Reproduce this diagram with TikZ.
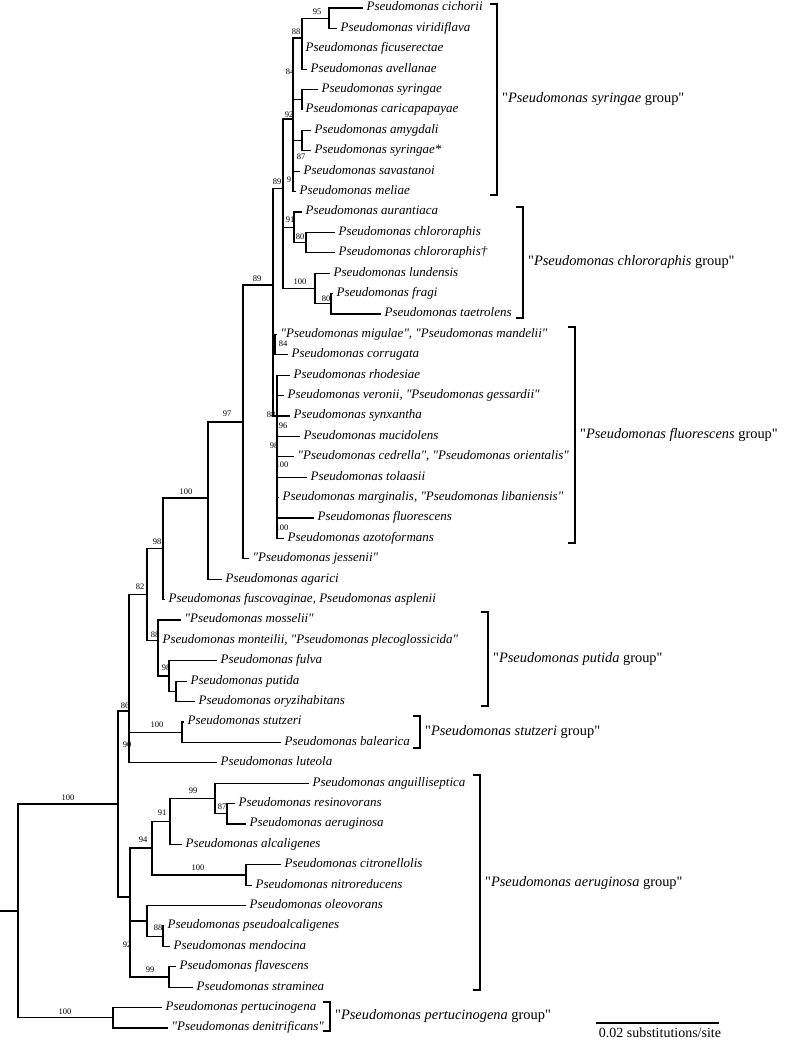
\documentclass[tikz,border=0pt]{standalone}
\usepackage{fontspec}
\setmainfont{Liberation Serif}[Ligatures=TeXOff]
\usetikzlibrary{positioning}

\begin{document}
\begin{tikzpicture}[x=1pt, y=-1pt,
  branch/.style={line width=1.3pt},
  clade/.style={line width=1.3pt},
  leaf/.style={anchor=west, inner xsep=3.5pt, inner ysep=0pt, text height=9.1pt, text depth=3.25pt, font=\fontsize{13}{15}\selectfont\itshape},
  boot/.style={inner sep=0pt, font=\fontsize{8.5}{9}\selectfont},
  grouplabel/.style={inner sep=0pt, font=\fontsize{14.4}{16}\selectfont}]
  \useasboundingbox (0,0) rectangle (784,1043);

  % internal nodes
  \coordinate (base) at (0,911);
  \coordinate (root) at (18,911);
  \coordinate (nZ) at (118,804);
  \coordinate (nJJ) at (113,1017.8);
  \coordinate (nY) at (129,711);
  \coordinate (nAA) at (130,897);
  \coordinate (nU) at (147,594.6);
  \coordinate (nST) at (182,732.2);
  \coordinate (nT) at (163,548.8);
  \coordinate (nV) at (158,640.4);
  \coordinate (nS) at (208,498);
  \coordinate (nN) at (243,422);
  \coordinate (nL) at (273,285);
  \coordinate (nG) at (283,188.5);
  \coordinate (nQ) at (275,344.6);
  \coordinate (nR) at (277,416);
  \coordinate (nD) at (293,119);
  \coordinate (nH) at (294,227.3);
  \coordinate (nJ) at (315,288.5);
  \coordinate (nB) at (302,38);
  \coordinate (nE) at (302,99.8);
  \coordinate (nF) at (302,140.6);
  \coordinate (nA) at (329,18.2);
  \coordinate (nI) at (306,242.6);
  \coordinate (nK) at (331,303.8);
  \coordinate (nW) at (169,676.1);
  \coordinate (nX) at (176,691.4);
  \coordinate (nBB) at (152,848);
  \coordinate (nCC) at (147,920.9);
  \coordinate (nEE) at (169,977);
  \coordinate (nHH) at (170,821.5);
  \coordinate (nII) at (246,875);
  \coordinate (nFF) at (215,798.5);
  \coordinate (nGG) at (227,813.8);
  \coordinate (nDD) at (163,936.2);

  % leaves
  \node[leaf] (cichorii) at (363,8) {Pseudomonas cichorii};
  \node[leaf] (viridiflava) at (337,28.4) {Pseudomonas viridiflava};
  \node[leaf] (ficuserectae) at (302,48.8) {Pseudomonas ficuserectae};
  \node[leaf] (avellanae) at (307,69.2) {Pseudomonas avellanae};
  \node[leaf] (syringae) at (318,89.6) {Pseudomonas syringae};
  \node[leaf] (caricapapayae) at (302,110) {Pseudomonas caricapapayae};
  \node[leaf] (amygdali) at (311,130.4) {Pseudomonas amygdali};
  \node[leaf] (syringaeb) at (311,150.8) {Pseudomonas syringae*};
  \node[leaf] (savastanoi) at (300,171.2) {Pseudomonas savastanoi};
  \node[leaf] (meliae) at (296,191.6) {Pseudomonas meliae};
  \node[leaf] (aurantiaca) at (302,212) {Pseudomonas aurantiaca};
  \node[leaf] (chlororaphis) at (335,232.4) {Pseudomonas chlororaphis};
  \node[leaf] (chlororaphisb) at (335,252.8) {Pseudomonas chlororaphis†};
  \node[leaf] (lundensis) at (330,273.2) {Pseudomonas lundensis};
  \node[leaf] (fragi) at (333,293.6) {Pseudomonas fragi};
  \node[leaf] (taetrolens) at (381,314) {Pseudomonas taetrolens};
  \node[leaf] (migulae) at (277,334.4) {"Pseudomonas migulae", "Pseudomonas mandelii"};
  \node[leaf] (corrugata) at (288,354.8) {Pseudomonas corrugata};
  \node[leaf] (rhodesiae) at (290,375.2) {Pseudomonas rhodesiae};
  \node[leaf] (veronii) at (284,395.6) {Pseudomonas veronii, "Pseudomonas gessardii"};
  \node[leaf] (synxantha) at (290,416) {Pseudomonas synxantha};
  \node[leaf] (mucidolens) at (300,436.4) {Pseudomonas mucidolens};
  \node[leaf] (cedrella) at (294,456.8) {"Pseudomonas cedrella", "Pseudomonas orientalis"};
  \node[leaf] (tolaasii) at (307,477.2) {Pseudomonas tolaasii};
  \node[leaf] (marginalis) at (279,497.6) {Pseudomonas marginalis, "Pseudomonas libaniensis"};
  \node[leaf] (fluorescens) at (314,518) {Pseudomonas fluorescens};
  \node[leaf] (azotoformans) at (284,538.4) {Pseudomonas azotoformans};
  \node[leaf] (jessenii) at (249,558.8) {"Pseudomonas jessenii"};
  \node[leaf] (agarici) at (222,579.2) {Pseudomonas agarici};
  \node[leaf] (fuscovaginae) at (165,599.6) {Pseudomonas fuscovaginae, Pseudomonas asplenii};
  \node[leaf] (mosselii) at (181,620) {"Pseudomonas mosselii"};
  \node[leaf] (monteilii) at (159,640.4) {Pseudomonas monteilii, "Pseudomonas plecoglossicida"};
  \node[leaf] (fulva) at (217,660.8) {Pseudomonas fulva};
  \node[leaf] (putida) at (187,681.2) {Pseudomonas putida};
  \node[leaf] (oryzihabitans) at (195,701.6) {Pseudomonas oryzihabitans};
  \node[leaf] (stutzeri) at (184,722) {Pseudomonas stutzeri};
  \node[leaf] (balearica) at (281,742.4) {Pseudomonas balearica};
  \node[leaf] (luteola) at (217,762.8) {Pseudomonas luteola};
  \node[leaf] (anguilliseptica) at (309,783.2) {Pseudomonas anguilliseptica};
  \node[leaf] (resinovorans) at (235,803.6) {Pseudomonas resinovorans};
  \node[leaf] (aeruginosa) at (246,824) {Pseudomonas aeruginosa};
  \node[leaf] (alcaligenes) at (182,844.4) {Pseudomonas alcaligenes};
  \node[leaf] (citronellolis) at (281,864.8) {Pseudomonas citronellolis};
  \node[leaf] (nitroreducens) at (252,885.2) {Pseudomonas nitroreducens};
  \node[leaf] (oleovorans) at (246,905.6) {Pseudomonas oleovorans};
  \node[leaf] (pseudoalcaligenes) at (164,926) {Pseudomonas pseudoalcaligenes};
  \node[leaf] (mendocina) at (170,946.4) {Pseudomonas mendocina};
  \node[leaf] (flavescens) at (176,966.8) {Pseudomonas flavescens};
  \node[leaf] (straminea) at (193,987.2) {Pseudomonas straminea};
  \node[leaf] (pertucinogena) at (162,1007.6) {Pseudomonas pertucinogena};
  \node[leaf] (denitrificans) at (168,1028) {"Pseudomonas denitrificans"};

  % branches
  \draw[branch] (base) -- (root);
  \draw[branch] (root) |- (nZ) (root) |- (nJJ);
  \draw[branch] (nJJ) |- (pertucinogena) (nJJ) |- (denitrificans);
  \draw[branch] (nZ) |- (nY) (nZ) |- (nAA);
  \draw[branch] (nY) |- (nU) (nY) |- (nST) (nY) |- (luteola);
  \draw[branch] (nU) |- (nT) (nU) |- (nV);
  \draw[branch] (nT) |- (nS) (nT) |- (fuscovaginae);
  \draw[branch] (nS) |- (nN) (nS) |- (agarici);
  \draw[branch] (nN) |- (nL) (nN) |- (jessenii);
  \draw[branch] (nL) |- (nG) (nL) |- (nQ) (nL) |- (nR);
  \draw[branch] (nG) |- (nD) (nG) |- (nH) (nG) |- (nJ);
  \draw[branch] (nD) |- (nB) (nD) |- (nE) (nD) |- (nF) (nD) |- (savastanoi) (nD) |- (meliae);
  \draw[branch] (nB) |- (nA) (nB) |- (ficuserectae) (nB) |- (avellanae);
  \draw[branch] (nA) |- (cichorii) (nA) |- (viridiflava);
  \draw[branch] (nE) |- (syringae) (nE) |- (caricapapayae);
  \draw[branch] (nF) |- (amygdali) (nF) |- (syringaeb);
  \draw[branch] (nH) |- (aurantiaca) (nH) |- (nI);
  \draw[branch] (nI) |- (chlororaphis) (nI) |- (chlororaphisb);
  \draw[branch] (nJ) |- (lundensis) (nJ) |- (nK);
  \draw[branch] (nK) |- (fragi) (nK) |- (taetrolens);
  \draw[branch] (nQ) |- (migulae) (nQ) |- (corrugata);
  \draw[branch] (nR) |- (rhodesiae) (nR) |- (veronii) (nR) |- (synxantha)
    (nR) |- (mucidolens) (nR) |- (cedrella) (nR) |- (tolaasii)
    (nR) |- (marginalis) (nR) |- (fluorescens) (nR) |- (azotoformans);
  \draw[branch] (nV) |- (mosselii) (nV) |- (monteilii) (nV) |- (nW);
  \draw[branch] (nW) |- (fulva) (nW) |- (nX);
  \draw[branch] (nX) |- (putida) (nX) |- (oryzihabitans);
  \draw[branch] (nST) |- (stutzeri) (nST) |- (balearica);
  \draw[branch] (nAA) |- (nBB) (nAA) |- (nCC) (nAA) |- (nEE);
  \draw[branch] (nBB) |- (nHH) (nBB) |- (nII);
  \draw[branch] (nHH) |- (nFF) (nHH) |- (alcaligenes);
  \draw[branch] (nFF) |- (anguilliseptica) (nFF) |- (nGG);
  \draw[branch] (nGG) |- (resinovorans) (nGG) |- (aeruginosa);
  \draw[branch] (nII) |- (citronellolis) (nII) |- (nitroreducens);
  \draw[branch] (nCC) |- (oleovorans) (nCC) |- (nDD);
  \draw[branch] (nDD) |- (pseudoalcaligenes) (nDD) |- (mendocina);
  \draw[branch] (nEE) |- (flavescens) (nEE) |- (straminea);

  % bootstrap values
  \node[boot] (bsA) at (317,12) {95};
  \node[boot] (bsB) at (296,32) {88};
  \node[boot] (bsB2) at (290,72) {84};
  \node[boot] (bsD) at (289,115) {92};
  \node[boot] (bsF) at (301,157) {87};
  \node[boot] (bsD2) at (291,180) {91};
  \node[boot] (bsG) at (277,182) {89};
  \node[boot] (bsH) at (290,220) {91};
  \node[boot] (bsI) at (300,237) {80};
  \node[boot] (bsJ) at (300,282) {100};
  \node[boot] (bsK) at (326,299) {80};
  \node[boot] (bsL) at (257,279) {89};
  \node[boot] (bsQ) at (283,344) {84};
  \node[boot] (bsR) at (271,415) {88};
  \node[boot] (bsR2) at (283,426) {96};
  \node[boot] (bsR3) at (274,446) {98};
  \node[boot] (bsR4) at (282,465) {100};
  \node[boot] (bsR5) at (282,528) {100};
  \node[boot] (bsN) at (227,414) {97};
  \node[boot] (bsS) at (186,492) {100};
  \node[boot] (bsT) at (157,542) {98};
  \node[boot] (bsU) at (140,587) {82};
  \node[boot] (bsV) at (155,635) {88};
  \node[boot] (bsW) at (166,668) {98};
  \node[boot] (bsY) at (125,706) {86};
  \node[boot] (bsST) at (157,725) {100};
  \node[boot] (bsY2) at (127,745) {90};
  \node[boot] (bsZ) at (68,798) {100};
  \node[boot] (bsFF) at (193,791) {99};
  \node[boot] (bsGG) at (222,807) {87};
  \node[boot] (bsHH) at (162,813) {91};
  \node[boot] (bsBB) at (143,840) {94};
  \node[boot] (bsII) at (198,868) {100};
  \node[boot] (bsDD) at (158,928) {88};
  \node[boot] (bsAA) at (127,945) {92};
  \node[boot] (bsEE) at (150,970) {99};
  \node[boot] (bsJJ) at (65,1012) {100};

  % group brackets
  \draw[clade] (490,4) -| (497,195) -- (490,195);
  \coordinate (syrmid) at (497,99.5);
  \node[grouplabel, right=5pt of syrmid] (gsyr) {"\textit{Pseudomonas syringae} group"};
  \draw[clade] (516,207) -| (523,318) -- (516,318);
  \coordinate (chlmid) at (523,262.5);
  \node[grouplabel, right=5pt of chlmid] (gchl) {"\textit{Pseudomonas chlororaphis} group"};
  \draw[clade] (568,327) -| (575,543) -- (568,543);
  \coordinate (flumid) at (575,435);
  \node[grouplabel, right=5pt of flumid] (gflu) {"\textit{Pseudomonas fluorescens} group"};
  \draw[clade] (481,612) -| (488,706) -- (481,706);
  \coordinate (putmid) at (488,659);
  \node[grouplabel, right=5pt of putmid] (gput) {"\textit{Pseudomonas putida} group"};
  \draw[clade] (413,716) -| (420,748) -- (413,748);
  \coordinate (stumid) at (420,732);
  \node[grouplabel, right=5pt of stumid] (gstu) {"\textit{Pseudomonas stutzeri} group"};
  \draw[clade] (473,775) -| (480,990) -- (473,990);
  \coordinate (aermid) at (480,883);
  \node[grouplabel, right=5pt of aermid] (gaer) {"\textit{Pseudomonas aeruginosa} group"};
  \draw[clade] (323,1002) -| (330,1031) -- (323,1031);
  \coordinate (permid) at (330,1016);
  \node[grouplabel, right=5pt of permid] (gper) {"\textit{Pseudomonas pertucinogena} group"};

  % scale bar
  \coordinate (sbL) at (596,1023);
  \coordinate (sbR) at (719,1023);
  \draw[branch] (sbL) -- (sbR);
  \node[inner sep=0pt, font=\fontsize{14}{16}\selectfont] (sblabel) at (660,1033) {0.02 substitutions/site};
\end{tikzpicture}
\end{document}
